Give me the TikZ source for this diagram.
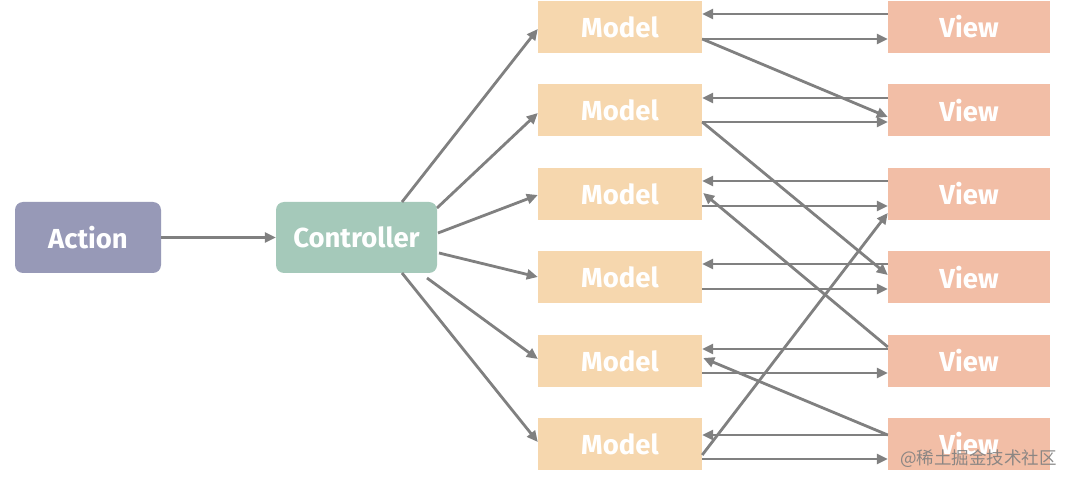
\documentclass[tikz,border=0pt]{standalone}
\usepackage{fontspec}
\setsansfont{Fira Sans}
\newfontfamily\cjk{Noto Sans CJK SC}
\usetikzlibrary{arrows.meta,calc}
\definecolor{actc}{RGB}{151,153,183}
\definecolor{ctrlc}{RGB}{165,201,186}
\definecolor{modc}{RGB}{246,215,174}
\definecolor{viewc}{RGB}{242,190,166}
\definecolor{arrc}{RGB}{128,128,128}
\begin{document}
\begin{tikzpicture}[x=1pt,y=-1pt,
  box/.style={inner sep=0pt,text=white,font=\sffamily\bfseries\fontsize{27.5}{30}\selectfont},
  actbox/.style={box,fill=actc,rounded corners=8pt,minimum width=146pt,minimum height=71pt},
  ctrlbox/.style={box,fill=ctrlc,rounded corners=8pt,minimum width=161pt,minimum height=71pt},
  modbox/.style={box,fill=modc,minimum width=164pt,minimum height=52pt},
  viewbox/.style={box,fill=viewc,minimum width=162pt,minimum height=52pt},
  arr/.style={draw=arrc,line width=2.8pt,-{Triangle[length=11pt,width=10pt]}}]
\fill[white] (0,0) rectangle (1076,486);
\useasboundingbox (0,0) rectangle (1076,486);
\node[actbox] (a) at (88,237.5) {Action};
\node[ctrlbox] (c) at (356.5,237.5) {Controller};
\foreach \i/\y in {1/27,2/110.5,3/194,4/277.5,5/361,6/444}{
  \node[modbox] (m\i) at (620,\y) {Model};
  \node[viewbox] (v\i) at (969,\y) {View};
}
\draw[arr] (a) -- (c);
% controller -> models
\draw[arr] ($(c.center)+(45.5,-35.5)$) -- ($(m1.west)+(0,2)$);
\draw[arr] ($(c.center)+(80.5,-29.5)$) -- ($(m2.west)+(0,2.5)$);
\draw[arr] ($(c.center)+(81.5,-4.5)$) -- ($(m3.west)+(0,1)$);
\draw[arr] ($(c.center)+(82.5,15.5)$) -- ($(m4.west)+(0,-0.5)$);
\draw[arr] ($(c.center)+(70.5,40.5)$) -- ($(m5.west)+(0,-2)$);
\draw[arr] ($(c.center)+(45.5,35.5)$) -- ($(m6.west)+(0,-2)$);
% model <-> view pairs
\draw[arr] ($(v1.west)+(0,-13)$) -- ($(m1.east)+(0,-13)$);
\draw[arr] ($(m1.east)+(0,12)$) -- ($(v1.west)+(0,12)$);
\draw[arr] ($(v2.west)+(0,-12.5)$) -- ($(m2.east)+(0,-12.5)$);
\draw[arr] ($(m2.east)+(0,11.5)$) -- ($(v2.west)+(0,11.5)$);
\draw[arr] ($(v3.west)+(0,-13)$) -- ($(m3.east)+(0,-13)$);
\draw[arr] ($(m3.east)+(0,12)$) -- ($(v3.west)+(0,12)$);
\draw[arr] ($(v4.west)+(0,-13.5)$) -- ($(m4.east)+(0,-13.5)$);
\draw[arr] ($(m4.east)+(0,11.5)$) -- ($(v4.west)+(0,11.5)$);
\draw[arr] ($(v5.west)+(0,-12)$) -- ($(m5.east)+(0,-12)$);
\draw[arr] ($(m5.east)+(0,12)$) -- ($(v5.west)+(0,12)$);
\draw[arr] ($(v6.west)+(0,-9)$) -- ($(m6.east)+(0,-9)$);
\draw[arr] ($(m6.east)+(0,15)$) -- ($(v6.west)+(0,15)$);
% crossing links
\draw[arr] ($(m1.east)+(0,12)$) -- ($(v2.west)+(0,6.5)$);
\draw[arr] ($(m2.east)+(0,11.5)$) -- ($(v4.west)+(0,-2.5)$);
\draw[arr] ($(v5.west)+(0,-14)$) -- ($(m3.east)+(1,-1)$);
\draw[arr] ($(m6.east)+(0,11)$) -- ($(v3.west)+(0,19)$);
\draw[arr] ($(v6.west)+(0,-9)$) -- ($(m5.east)+(1,-3)$);
\node[text=black!50,opacity=0.9,font=\cjk\fontsize{17.5}{19}\selectfont] (wm) at (978.5,459) {@稀土掘金技术社区};
\end{tikzpicture}
\end{document}
